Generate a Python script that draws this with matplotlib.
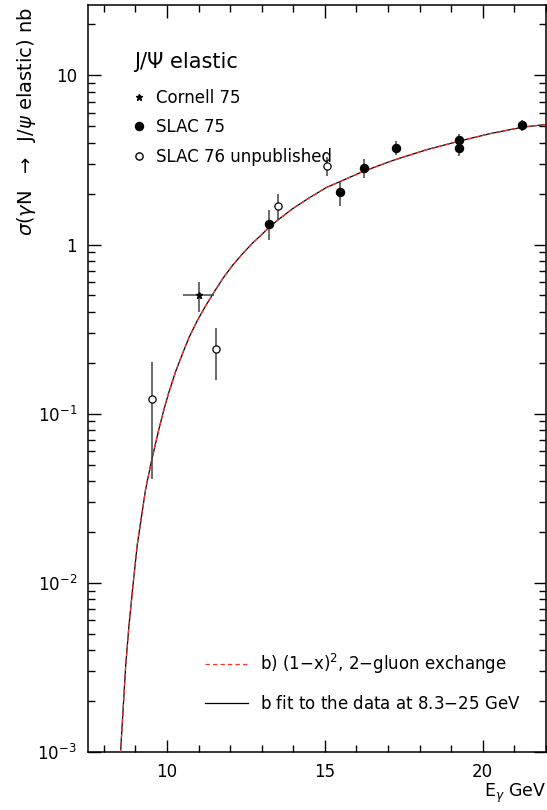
import matplotlib
matplotlib.use("Agg")
import matplotlib.pyplot as plt
from matplotlib.lines import Line2D
from matplotlib.ticker import FixedLocator, FuncFormatter, MultipleLocator

# ---------------- data ----------------
cornell_E = [11.0]
cornell_sig = [0.50]
cornell_xerr = [0.5]
cornell_yerr = [0.10]

slac75_E = [13.24, 15.49, 16.24, 17.25, 19.26, 19.26, 21.24]
slac75_sig = [1.33, 2.04, 2.84, 3.73, 4.16, 3.73, 5.08]
slac75_err = [0.27, 0.34, 0.37, 0.34, 0.36, 0.38, 0.40]

slac76_E = [9.52, 11.56, 13.52, 15.06]
slac76_sig = [0.122, 0.242, 1.68, 2.91]
slac76_err_lo = [0.081, 0.083, 0.29, 0.38]
slac76_err_hi = [0.080, 0.080, 0.32, 0.38]

curve_E = [8.50, 8.53, 8.69, 8.79, 8.93, 9.06, 9.16, 9.32, 9.51, 9.75, 9.91, 10.06,
           10.28, 10.49, 10.70, 10.96, 11.23, 11.49, 11.76, 12.07, 12.39, 12.71,
           13.03, 13.24, 13.50, 13.98, 14.51, 15.04, 15.51, 16.20, 17.15, 18.21,
           19.22, 20.22, 21.28, 22.03]
curve_sig = [8e-4, 1e-3, 3.2e-3, 5.45e-3, 1e-2, 0.0169, 0.0225, 0.0355, 0.0527, 0.082,
             0.107, 0.134, 0.179, 0.226, 0.283, 0.355, 0.436, 0.523, 0.627, 0.751,
             0.881, 1.02, 1.16, 1.27, 1.39, 1.63, 1.89, 2.17, 2.37, 2.70, 3.14, 3.63,
             4.07, 4.52, 4.95, 5.13]

x_major = [10, 15, 20]
y_major = [1e-3, 1e-2, 1e-1, 1, 10]
y_major_labels = [r"$10^{-3}$", r"$10^{-2}$", r"$10^{-1}$", "1", "10"]

# ---------------- figure ----------------
fig = plt.figure(figsize=(5.47, 8.10), dpi=100)
ax = fig.add_axes([0.161, 0.0716, 0.837, 0.922])
ax.set_yscale("log")
ax.set_xlim(7.5, 22.0)
ax.set_ylim(1e-3, 26)

errc = "#444444"
red = "#ff3030"
dash = (0, (3.5, 2.5))
ax.plot(curve_E, curve_sig, color="black", lw=0.9, zorder=2)
ax.plot(curve_E, curve_sig, color=red, lw=0.9, ls=dash, zorder=3)

ax.errorbar(cornell_E, cornell_sig, xerr=cornell_xerr, yerr=cornell_yerr, fmt="*",
            color="black", ecolor=errc, elinewidth=1.1, markersize=5, capsize=0, zorder=4)
ax.errorbar(slac75_E, slac75_sig, yerr=slac75_err, fmt="o", color="black", ecolor=errc,
            elinewidth=1.1, markersize=5.8, capsize=0, zorder=4)
ax.errorbar(slac76_E, slac76_sig, yerr=[slac76_err_lo, slac76_err_hi], fmt="o",
            mfc="white", mec="black", mew=0.9, ecolor=errc, elinewidth=1.1,
            markersize=5.2, capsize=0, zorder=4)

# ticks
ax.xaxis.set_major_locator(FixedLocator(x_major))
ax.xaxis.set_minor_locator(MultipleLocator(1))
ax.yaxis.set_major_locator(FixedLocator(y_major))
ax.yaxis.set_major_formatter(FuncFormatter(
    lambda v, p: y_major_labels[y_major.index(min(y_major, key=lambda t: abs(t - v)))]))
ax.tick_params(which="both", direction="in", top=True, right=True, width=1.0,
               labelsize=12, colors="black")
ax.tick_params(which="major", length=9)
ax.tick_params(which="minor", length=5)
ax.tick_params(axis="y", pad=8)
ax.tick_params(axis="x", pad=8)
for s in ax.spines.values():
    s.set_linewidth(1.1)

ax.set_ylabel(r"$\sigma(\gamma$N  $\rightarrow$  J/$\psi$ elastic) nb", fontsize=14,
              loc="top")
ax.yaxis.set_label_coords(-0.109, 0.997)
ax.set_xlabel(r"E$_\gamma$ GeV", fontsize=12.5, loc="right")
ax.xaxis.set_label_coords(1.0, -0.040)

# legend for data
h1 = Line2D([], [], ls="none", marker="*", color="black", markersize=5)
h2 = Line2D([], [], ls="none", marker="o", color="black", markersize=5.8)
h3 = Line2D([], [], ls="none", marker="o", mfc="white", mec="black", markersize=5.2)
leg1 = ax.legend([h1, h2, h3], ["Cornell 75", "SLAC 75", "SLAC 76 unpublished"],
                 title="J/Ψ elastic", title_fontsize=15, fontsize=12, frameon=False,
                 loc="upper left", bbox_to_anchor=(0.0866, 0.946), handlelength=0.6,
                 handletextpad=0.7, labelspacing=0.68, alignment="left",
                 borderaxespad=0)
leg1._legend_box.sep = 12
ax.add_artist(leg1)

# legend for curves
l1 = Line2D([], [], color=red, lw=0.9, ls=dash)
l2 = Line2D([], [], color="black", lw=0.9)
ax.legend([l1, l2], [r"b) (1$-$x)$^2$, 2$-$gluon exchange", r"b fit to the data at 8.3$-$25 GeV"],
          fontsize=12, frameon=False, loc="lower left", bbox_to_anchor=(0.241, 0.043),
          handlelength=2.6, handletextpad=0.72, labelspacing=1.15, borderaxespad=0)

fig.savefig("out.png", dpi=100)
